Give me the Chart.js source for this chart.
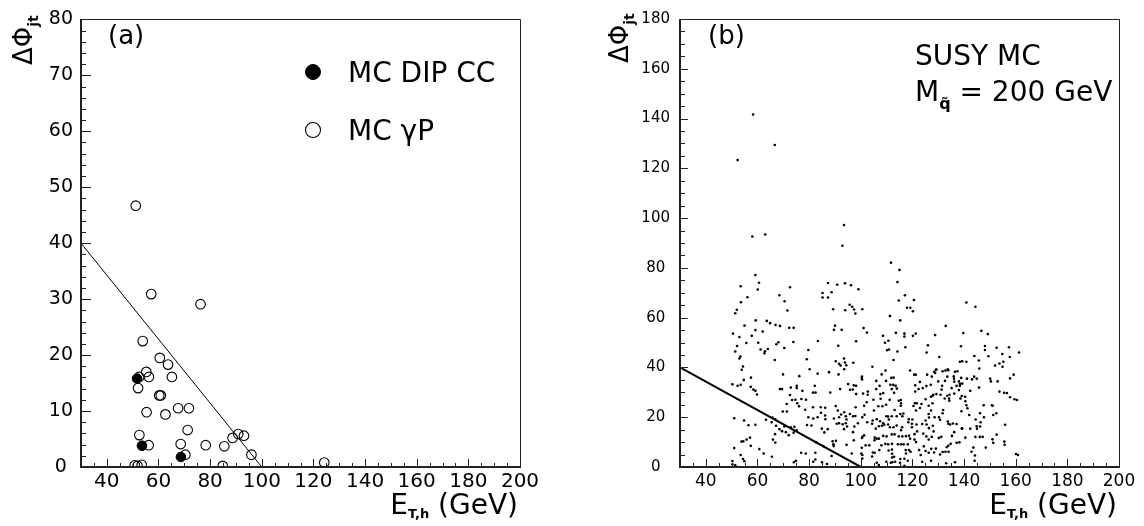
<!DOCTYPE html>
<html>
<head>
<meta charset="utf-8">
<script src="https://cdn.jsdelivr.net/npm/chart.js@4.4.0/dist/chart.umd.min.js"></script>
<style>
  html, body { margin: 0; padding: 0; background: #fff; }
  #wrap { position: relative; width: 1144px; height: 526px; overflow: hidden; }
  #wrap canvas { position: absolute; top: 0; }
</style>
</head>
<body>
<div id="wrap">
  <canvas id="panelA" width="572" height="526" style="left:0"></canvas>
  <canvas id="panelB" width="572" height="526" style="left:572px"></canvas>
</div>
<script>
// ---------- data ----------
const xTickVals = [40, 60, 80, 100, 120, 140, 160, 180, 200];
const yTickValsA = [0, 10, 20, 30, 40, 50, 60, 70, 80];
const yTickValsB = [0, 20, 40, 60, 80, 100, 120, 140, 160, 180];

// cut line: delta-phi = 40 at E = 30 GeV down to 0 at E = 100 GeV
const cutE = [30, 100];
const cutPhi = [40, 0];

// (a) MC DIP CC events
const dipE   = [51.7, 53.6, 68.7];
const dipPhi = [15.8, 3.8, 1.8];

// (a) MC gamma-P events
const gpE = [51.2, 57.2, 76.3, 53.9, 60.5, 63.7, 55.3, 56.3, 65.2, 52.5, 52.1, 60.3, 60.9,
             55.4, 62.7, 67.6, 71.8, 71.3, 52.6, 56.2, 68.6, 78.3, 85.5, 88.7, 90.9, 93.1,
             96.0, 70.4, 50.8, 51.9, 53.5, 84.9, 124.2];
const gpPhi = [46.7, 30.9, 29.1, 22.5, 19.5, 18.3, 17.0, 16.1, 16.1, 16.1, 14.1, 12.8, 12.8,
               9.8, 9.4, 10.5, 10.5, 6.6, 5.7, 3.9, 4.1, 3.9, 3.7, 5.2, 5.9, 5.6,
               2.2, 2.2, 0.3, 0.2, 0.4, 0.2, 0.8];

// (b) SUSY MC events, squark mass 200 GeV
const susyE = [
  58.3, 66.7, 52.3, 93.5, 58.0, 63.0, 92.9, 111.7, 115.0, 59.2,
  60.6, 53.5, 60.1, 56.1, 53.6, 52.0, 51.4, 68.5, 70.5, 72.6, 71.6, 87.3, 90.9, 93.9, 96.2,
  99.1, 85.2, 88.7, 85.2, 87.3, 89.3, 94.0, 95.7, 96.7, 97.4, 97.9, 55.0, 59.3, 59.2, 62.0,
  63.6, 64.9, 67.0, 68.7, 72.3, 74.0, 50.5, 53.0, 57.8, 55.7, 60.3, 52.1, 51.4, 53.4, 53.0,
  61.2, 62.9, 64.0, 62.7, 67.3, 68.1, 70.4, 73.9, 66.7, 54.4, 53.9, 54.7, 57.5, 50.3, 52.3,
  53.5, 57.4, 58.4, 59.2, 59.8, 69.9, 68.7, 69.5, 72.9, 76.2, 75.2, 75.2, 77.4, 72.6, 73.4,
  71.3, 69.8, 71.4, 74.7, 75.4, 76.1, 77.0, 78.8, 79.7, 79.1, 80.2, 83.4, 83.3, 87.7, 91.3,
  90.0, 89.6, 92.6, 90.3, 91.6, 92.2, 93.5, 93.9, 94.4, 93.6, 97.1, 98.2, 91.4, 100.4, 82.2,
  82.5, 81.5, 88.2, 92.0, 95.1, 97.3, 98.2, 95.8, 96.9, 98.2, 100.9, 81.5, 84.5, 86.2, 90.3,
  98.0, 78.5, 79.7, 81.6, 83.3, 84.6, 86.2, 86.3, 91.1, 89.6, 91.6, 92.4, 93.6, 94.2, 94.5,
  95.8, 97.0, 97.9, 90.7, 91.6, 93.0, 94.2, 94.7, 93.5, 97.5, 98.9, 97.0, 100.5, 79.2, 80.9,
  84.9, 85.9, 87.2, 82.7, 85.5, 89.1, 89.4, 89.5, 90.4, 94.5, 97.3, 100.4, 100.6, 96.5, 82.4,
  78.7, 76.9, 88.7, 85.0, 86.9, 81.6, 82.4, 74.1, 74.9, 67.2, 66.9, 65.5, 65.8, 63.3, 59.2,
  56.5, 54.8, 51.0, 68.5, 69.5, 70.4, 71.0, 72.1, 72.9, 74.3, 75.2, 74.0, 66.8, 66.0, 66.9,
  57.1, 55.8, 53.8, 54.5, 57.4, 51.0, 53.5, 54.4, 54.9, 60.7, 62.4, 65.6, 50.3, 50.3, 51.4,
  114.2, 117.1, 120.6, 114.7, 117.9, 119.2, 120.2, 100.6, 111.3, 115.3, 140.9, 144.4, 132.9,
  101.1, 102.4, 108.6, 109.4, 110.7, 113.6, 116.9, 116.9, 120.2, 121.3, 128.8, 139.7, 146.7,
  149.2, 110.2, 110.9, 114.2, 117.3, 126.0, 125.5, 112.7, 130.4, 138.8, 144.0, 148.1, 148.1,
  149.4, 152.6, 157.4, 161.3, 154.8, 157.7, 153.7, 155.2, 154.9, 152.0, 104.5, 145.7, 145.9,
  138.4, 139.3, 140.9, 136.5, 137.4, 133.7, 132.8, 131.7, 129.1, 128.4, 125.7, 127.5, 121.3,
  119.1, 109.6, 108.1, 111.8, 109.8, 100.5, 100.5, 106.0, 107.3, 111.5, 112.6, 113.5, 114.0,
  112.0, 112.9, 108.7, 107.6, 121.1, 121.1, 122.9, 122.4, 124.0, 125.4, 130.0, 132.6, 131.5,
  131.3, 129.3, 128.1, 127.2, 125.1, 133.5, 136.1, 138.0, 138.9, 136.2, 137.1, 138.4, 139.3,
  138.0, 136.2, 134.4, 134.2, 134.3, 138.6, 139.1, 140.4, 140.5, 140.9, 141.3, 139.0, 142.4,
  141.1, 143.1, 143.9, 144.9, 145.8, 150.1, 150.4, 153.0, 153.7, 155.5, 156.6, 157.8, 159.5,
  160.5, 159.2, 157.8, 147.6, 150.8, 152.5, 151.3, 155.9, 152.6, 151.0, 151.3, 155.6, 155.7,
  160.9, 147.7, 146.4, 146.2, 144.9, 144.5, 145.0, 142.4, 144.4, 146.1, 147.2, 148.4, 143.6,
  142.9, 144.2, 144.1, 140.5, 139.3, 137.1, 135.7, 133.9, 133.7, 136.2, 135.3, 138.2, 137.1,
  134.8, 133.9, 133.3, 134.0, 132.8, 131.7, 130.7, 129.1, 128.4, 127.3, 126.3, 125.1, 122.6,
  123.2, 124.4, 126.3, 127.5, 125.4, 128.2, 126.4, 127.9, 125.5, 123.8, 125.1, 126.4, 130.3,
  130.7, 128.6, 126.3, 127.2, 126.3, 127.8, 123.5, 122.9, 121.4, 120.4, 121.0, 116.5, 116.1,
  115.3, 113.9, 112.0, 110.6, 109.9, 118.6, 118.4, 120.0, 119.8, 119.8, 121.6, 121.8, 120.8,
  120.8, 121.4, 119.1, 118.7, 118.2, 118.7, 119.3, 117.4, 117.5, 118.2, 116.9, 115.2, 113.3,
  112.2, 112.1, 112.1, 112.1, 112.9, 115.3, 116.9, 110.8, 110.6, 109.5, 112.1, 114.4, 115.6,
  116.6, 117.5, 116.1, 113.1, 112.0, 110.0, 108.7, 107.0, 106.2, 105.4, 105.3, 108.0, 107.2,
  105.4, 104.7, 104.4, 103.3, 101.9, 100.6, 101.3, 100.2, 100.6, 106.2, 107.0, 109.9, 111.6,
  123.8, 127.2, 133.1, 136.5, 105.8, 107.0, 108.2, 109.1, 108.7, 107.5, 106.2, 104.6, 104.4,
  102.5, 101.5, 100.6, 105.1, 106.8, 108.4, 109.8, 111.2, 107.7, 104.9, 102.3, 101.3, 102.7,
  102.7, 106.0, 114.7, 115.5, 115.5, 113.1, 110.9, 110.6, 111.3, 112.7, 113.9, 116.0, 115.6,
  114.7, 124.2, 130.2, 131.2, 134.6, 131.9, 131.7, 132.5, 135.2, 133.5, 130.9, 127.8, 127.1,
  121.7, 115.6, 112.7, 120.7, 128.8, 129.3, 133.9, 136.0, 138.4, 142.0, 139.1, 146.2, 160.1,
  151.1
];
const susyPhi = [
  141.6, 129.4, 123.3, 97.2, 92.6, 93.4, 88.9, 82.1, 79.2, 77.1,
  74.0, 72.6, 71.3, 68.2, 66.2, 63.2, 61.8, 69.0, 66.6, 72.2, 62.9, 73.9, 73.2, 73.8, 73.0,
  71.4, 69.9, 70.2, 68.1, 68.1, 63.4, 63.0, 65.2, 64.4, 63.3, 61.7, 56.8, 58.9, 55.0, 54.4,
  58.7, 57.8, 57.1, 56.7, 55.9, 55.9, 53.6, 52.2, 52.7, 49.8, 49.9, 48.6, 46.4, 44.4, 43.6,
  47.2, 46.5, 47.4, 45.7, 49.3, 50.1, 47.8, 50.2, 43.0, 40.4, 39.1, 35.0, 35.9, 33.2, 32.6,
  33.0, 32.2, 31.1, 30.6, 29.1, 37.2, 31.3, 31.3, 31.9, 36.5, 32.6, 31.7, 30.6, 28.9, 26.9,
  25.3, 22.3, 22.3, 27.0, 25.6, 24.4, 27.3, 27.0, 47.0, 43.3, 39.3, 50.6, 37.5, 38.1, 48.7,
  56.8, 55.1, 55.1, 42.5, 41.5, 40.8, 43.6, 42.0, 40.9, 39.3, 41.9, 50.5, 37.2, 35.9, 32.6,
  29.9, 29.9, 29.9, 31.3, 33.3, 32.8, 32.6, 31.0, 31.1, 29.3, 29.5, 24.0, 24.0, 23.8, 24.5,
  24.0, 23.0, 20.0, 19.5, 20.0, 21.8, 20.7, 19.2, 22.7, 19.5, 20.0, 21.1, 22.0, 20.4, 19.1,
  21.3, 20.4, 20.5, 17.4, 17.6, 17.2, 17.6, 16.3, 15.2, 16.3, 17.6, 14.0, 11.7, 16.9, 16.7,
  15.4, 13.9, 15.2, 9.9, 8.4, 10.3, 9.1, 8.4, 10.5, 8.9, 10.7, 7.7, 4.8, 5.4, 5.7,
  5.4, 5.7, 4.4, 1.9, 1.2, 2.1, 3.0, 1.9, 2.5, 16.6, 19.2, 18.0, 19.9, 19.0, 17.0,
  16.8, 18.7, 19.6, 15.2, 14.4, 16.3, 14.0, 12.8, 16.0, 16.2, 14.7, 13.8, 13.2, 11.0, 9.8,
  11.8, 11.0, 10.2, 10.3, 8.5, 7.6, 4.8, 3.2, 2.3, 7.2, 5.4, 4.1, 2.4, 1.1, 0.7,
  74.3, 69.0, 67.1, 66.9, 64.0, 64.0, 62.6, 63.4, 60.7, 58.9, 66.1, 64.4, 56.7,
  55.8, 54.0, 52.7, 49.9, 50.7, 53.9, 53.6, 52.4, 52.7, 53.6, 53.0, 53.8, 54.7,
  53.4, 46.9, 47.2, 46.4, 48.1, 48.9, 46.0, 43.0, 44.2, 48.5, 44.6, 48.6, 47.0,
  44.5, 47.9, 48.1, 46.0, 45.4, 44.2, 41.6, 42.3, 40.3, 40.8, 40.3, 42.8, 39.6,
  42.3, 42.5, 42.3, 38.3, 38.5, 39.3, 38.8, 38.5, 39.1, 38.3, 37.1, 36.3, 37.1,
  38.8, 38.8, 37.2, 35.8, 34.6, 36.3, 35.2, 34.6, 32.6, 33.0, 33.0, 32.6, 31.5,
  31.3, 29.8, 29.7, 29.3, 32.8, 30.3, 34.2, 31.3, 31.7, 32.5, 34.4, 34.6, 32.6,
  31.1, 29.3, 29.0, 28.2, 27.2, 36.3, 35.5, 34.4, 35.8, 34.3, 32.6, 32.6, 33.5,
  30.9, 29.5, 29.0, 27.5, 26.6, 27.5, 28.5, 28.2, 26.4, 24.8, 23.6, 22.4, 30.6,
  35.5, 35.2, 36.3, 35.5, 31.9, 35.5, 34.4, 34.4, 30.3, 29.8, 29.7, 28.0, 27.2,
  26.9, 37.1, 35.6, 24.8, 24.8, 21.6, 20.9, 17.0, 13.0, 11.1, 9.7, 10.2, 8.9,
  4.8, 20.0, 18.0, 16.3, 16.4, 19.1, 15.4, 15.4, 12.1, 12.1, 12.1, 7.8, 7.8,
  6.1, 4.6, 2.5, 11.8, 15.4, 17.3, 17.5, 17.4, 18.3, 14.0, 12.5, 9.9, 9.7,
  9.3, 8.5, 8.0, 6.1, 6.1, 6.0, 5.0, 7.4, 5.8, 7.3, 5.7, 6.4, 6.8,
  4.8, 8.3, 11.0, 12.1, 12.3, 14.3, 15.6, 16.6, 17.1, 17.3, 18.7, 19.9, 20.0,
  19.0, 20.0, 21.3, 22.7, 24.6, 25.6, 25.3, 23.7, 22.7, 24.5, 25.6, 21.5, 20.4,
  21.3, 20.4, 20.4, 20.3, 20.4, 19.2, 18.0, 19.1, 17.4, 16.0, 17.1, 14.3, 13.2,
  11.0, 10.0, 11.4, 12.6, 9.1, 6.8, 6.1, 6.8, 5.4, 2.5, 0.5, 1.7, 2.1,
  1.9, 3.8, 5.3, 7.0, 4.1, 3.2, 3.3, 6.6, 9.1, 9.3, 9.3, 9.1, 9.1,
  9.1, 12.4, 12.3, 13.1, 13.1, 12.3, 12.5, 11.4, 11.4, 11.8, 10.7, 8.7, 6.8,
  5.7, 5.8, 4.2, 8.7, 8.7, 12.1, 12.7, 5.4, 3.4, 1.7, 0.8, 2.1, 1.7,
  2.1, 2.5, 1.5, 1.9, 15.4, 16.4, 16.6, 17.0, 17.6, 18.4, 19.2, 18.7, 17.4,
  18.0, 21.0, 20.0, 22.7, 24.4, 24.4, 25.0, 27.0, 27.4, 27.0, 26.0, 24.6, 30.3,
  29.0, 31.3, 26.6, 26.9, 24.6, 22.9, 19.1, 17.1, 16.0, 16.0, 16.7, 16.0, 14.8,
  12.3, 13.4, 11.7, 12.1, 17.1, 22.9, 21.6, 27.5, 31.7, 28.6, 29.0, 28.6, 33.0,
  25.6, 25.6, 35.9, 37.1, 37.8, 39.2, 38.9, 36.4, 33.4, 20.9, 15.5, 21.6, 5.2,
  24.6
];

// ---------- helpers ----------
const FONT = '"DejaVu Sans", Verdana, sans-serif';
const pts = (xs, ys) => xs.map((v, i) => ({ x: v, y: ys[i] }));

function runsWidth(ctx, runs) {
  let w = 0;
  for (const r of runs) { ctx.font = r.font; w += ctx.measureText(r.t).width; }
  return w;
}
// draws a row of text pieces (main text, subscripts) from one baseline
function drawRuns(ctx, runs, x, y, align, sx) {
  ctx.save();
  ctx.translate(x, y);
  ctx.scale(sx || 1, 1);
  ctx.fillStyle = '#000';
  ctx.textAlign = 'left';
  ctx.textBaseline = 'alphabetic';
  let cx = align === 'right' ? -runsWidth(ctx, runs) : 0;
  for (const r of runs) {
    ctx.font = r.font;
    ctx.fillText(r.t, cx, r.dy || 0);
    cx += ctx.measureText(r.t).width;
  }
  ctx.restore();
}

// frame, inward tick marks, axis titles and free text
const decorPlugin = {
  id: 'decor',
  afterDraw(chart, args, o) {
    const { ctx, chartArea: a, scales: { x, y } } = chart;
    const L = Math.round(a.left), R = Math.round(a.right), T = Math.round(a.top), B = Math.round(a.bottom);
    ctx.save();
    ctx.strokeStyle = '#222';
    ctx.lineWidth = 1;
    // ticks on bottom axis
    for (let v = x.min + o.xMinor; v < x.max; v += o.xMinor) {
      const px = Math.round(x.getPixelForValue(v)) + 0.5;
      const len = (v % o.xMajor === 0) ? o.xMajorLen : o.xMinorLen;
      ctx.beginPath(); ctx.moveTo(px, B); ctx.lineTo(px, B - len); ctx.stroke();
    }
    // ticks on left axis
    for (let v = y.min + o.yMinor; v < y.max; v += o.yMinor) {
      const py = Math.round(y.getPixelForValue(v)) + 0.5;
      const len = (v % o.yMajor === 0) ? o.yMajorLen : o.yMinorLen;
      ctx.beginPath(); ctx.moveTo(L, py); ctx.lineTo(L + len, py); ctx.stroke();
    }
    // frame
    ctx.beginPath();
    ctx.moveTo(L, T + 0.5); ctx.lineTo(R + 0.5, T + 0.5); ctx.lineTo(R + 0.5, B);
    ctx.stroke();
    ctx.lineWidth = 2;
    ctx.beginPath();
    ctx.moveTo(L, T); ctx.lineTo(L, B); ctx.lineTo(R + 1, B);
    ctx.stroke();
    ctx.restore();

    // free text
    for (const t of o.texts) drawRuns(ctx, t.runs, t.x, t.y, t.align, t.sx);

    // rotated y-axis title
    ctx.save();
    ctx.translate(o.yTitle.x, o.yTitle.y);
    ctx.rotate(-Math.PI / 2);
    drawRuns(ctx, o.yTitle.runs, 0, 0, 'left', 1);
    ctx.restore();

    // legend entries
    if (o.legend) {
      for (const e of o.legend) {
        const ds = chart.data.datasets[e.ds];
        ctx.save();
        ctx.beginPath();
        ctx.arc(e.x, e.y, e.r, 0, Math.PI * 2);
        ctx.fillStyle = ds.backgroundColor;
        ctx.fill();
        ctx.lineWidth = ds.borderWidth;
        ctx.strokeStyle = ds.borderColor;
        ctx.stroke();
        ctx.restore();
        drawRuns(ctx, [{ t: ds.label, font: e.font }], e.tx, e.ty, 'left', e.sx);
      }
    }
  }
};

function xScale(size, pad) {
  return {
    type: 'linear', min: 30, max: 200,
    afterBuildTicks: s => { s.ticks = xTickVals.map(v => ({ value: v })); },
    afterFit: s => { s.height = 59; },
    grid: { display: false, drawTicks: false }, border: { display: false },
    ticks: { color: '#000', font: { family: FONT, size }, padding: pad, maxRotation: 0, autoSkip: false }
  };
}
function yScale(max, vals, size, width, pad) {
  return {
    type: 'linear', min: 0, max,
    afterBuildTicks: s => { s.ticks = vals.map(v => ({ value: v })); },
    afterFit: s => { s.width = width; },
    grid: { display: false, drawTicks: false }, border: { display: false },
    ticks: { color: '#000', font: { family: FONT, size }, padding: pad, crossAlign: 'center', autoSkip: false }
  };
}

const big = s => `${s}px ${FONT}`;
const sub = s => `bold ${s}px ${FONT}`;
const xTitleRuns = [{ t: 'E', font: big(28) }, { t: 'T,h', font: sub(13), dy: 4 }, { t: ' (GeV)', font: big(28) }];
const yTitleRuns = [{ t: '\u0394\u03A6', font: big(26) }, { t: 'jt', font: sub(14), dy: 6 }];

// ---------- panel (a) ----------
new Chart(document.getElementById('panelA'), {
  type: 'scatter',
  data: {
    datasets: [
      { label: 'MC DIP CC', data: pts(dipE, dipPhi), pointStyle: 'circle', pointRadius: 4.8,
        backgroundColor: '#000', borderColor: '#000', borderWidth: 1 },
      { label: 'MC \u03B3P', data: pts(gpE, gpPhi), pointStyle: 'circle', pointRadius: 4.8,
        backgroundColor: 'rgba(255,255,255,0)', borderColor: '#000', borderWidth: 1.1 },
      { label: 'cut', type: 'line', data: pts(cutE, cutPhi), borderColor: '#000', borderWidth: 1,
        pointRadius: 0, fill: false }
    ]
  },
  options: {
    responsive: false, animation: false,
    layout: { padding: { left: 0, right: 52, top: 14, bottom: 0 } },
    scales: { x: xScale(20, 3), y: yScale(80, yTickValsA, 19, 81, 8) },
    plugins: {
      legend: { display: false }, tooltip: { enabled: false },
      decor: {
        xMinor: 5, xMajor: 20, xMajorLen: 8, xMinorLen: 4,
        yMinor: 2, yMajor: 10, yMajorLen: 10, yMinorLen: 5,
        texts: [
          { runs: [{ t: '(a)', font: big(26) }], x: 108, y: 44 },
          { runs: xTitleRuns, x: 518, y: 514, align: 'right' }
        ],
        yTitle: { x: 32, y: 65, runs: yTitleRuns },
        legend: [
          { ds: 0, x: 313, y: 72, r: 7.5, tx: 348, ty: 82, font: big(28) },
          { ds: 1, x: 313, y: 130, r: 7.5, tx: 348, ty: 140, font: big(28) }
        ]
      }
    }
  },
  plugins: [decorPlugin]
});

// ---------- panel (b) ----------
new Chart(document.getElementById('panelB'), {
  type: 'scatter',
  data: {
    datasets: [
      { label: 'SUSY MC', data: pts(susyE, susyPhi), pointStyle: 'circle', pointRadius: 1.3,
        backgroundColor: '#000', borderWidth: 0 },
      { label: 'cut', type: 'line', data: pts(cutE, cutPhi), borderColor: '#000', borderWidth: 2,
        pointRadius: 0, fill: false }
    ]
  },
  options: {
    responsive: false, animation: false,
    layout: { padding: { left: 0, right: 25, top: 14, bottom: 0 } },
    scales: { x: xScale(17, 4), y: yScale(180, yTickValsB, 15, 108, 10) },
    plugins: {
      legend: { display: false }, tooltip: { enabled: false },
      decor: {
        xMinor: 5, xMajor: 20, xMajorLen: 8, xMinorLen: 4,
        yMinor: 5, yMajor: 20, yMajorLen: 8, yMinorLen: 5,
        texts: [
          { runs: [{ t: '(b)', font: big(26) }], x: 136, y: 44 },
          { runs: [{ t: 'SUSY MC', font: big(28) }], x: 343, y: 65 },
          { runs: [{ t: 'M', font: big(28) }, { t: 'q\u0303', font: sub(16), dy: 8 }, { t: ' = 200 GeV', font: big(28) }],
            x: 343, y: 101 },
          { runs: xTitleRuns, x: 545, y: 514, align: 'right' }
        ],
        yTitle: { x: 56, y: 63, runs: yTitleRuns }
      }
    }
  },
  plugins: [decorPlugin]
});
</script>
</body>
</html>
